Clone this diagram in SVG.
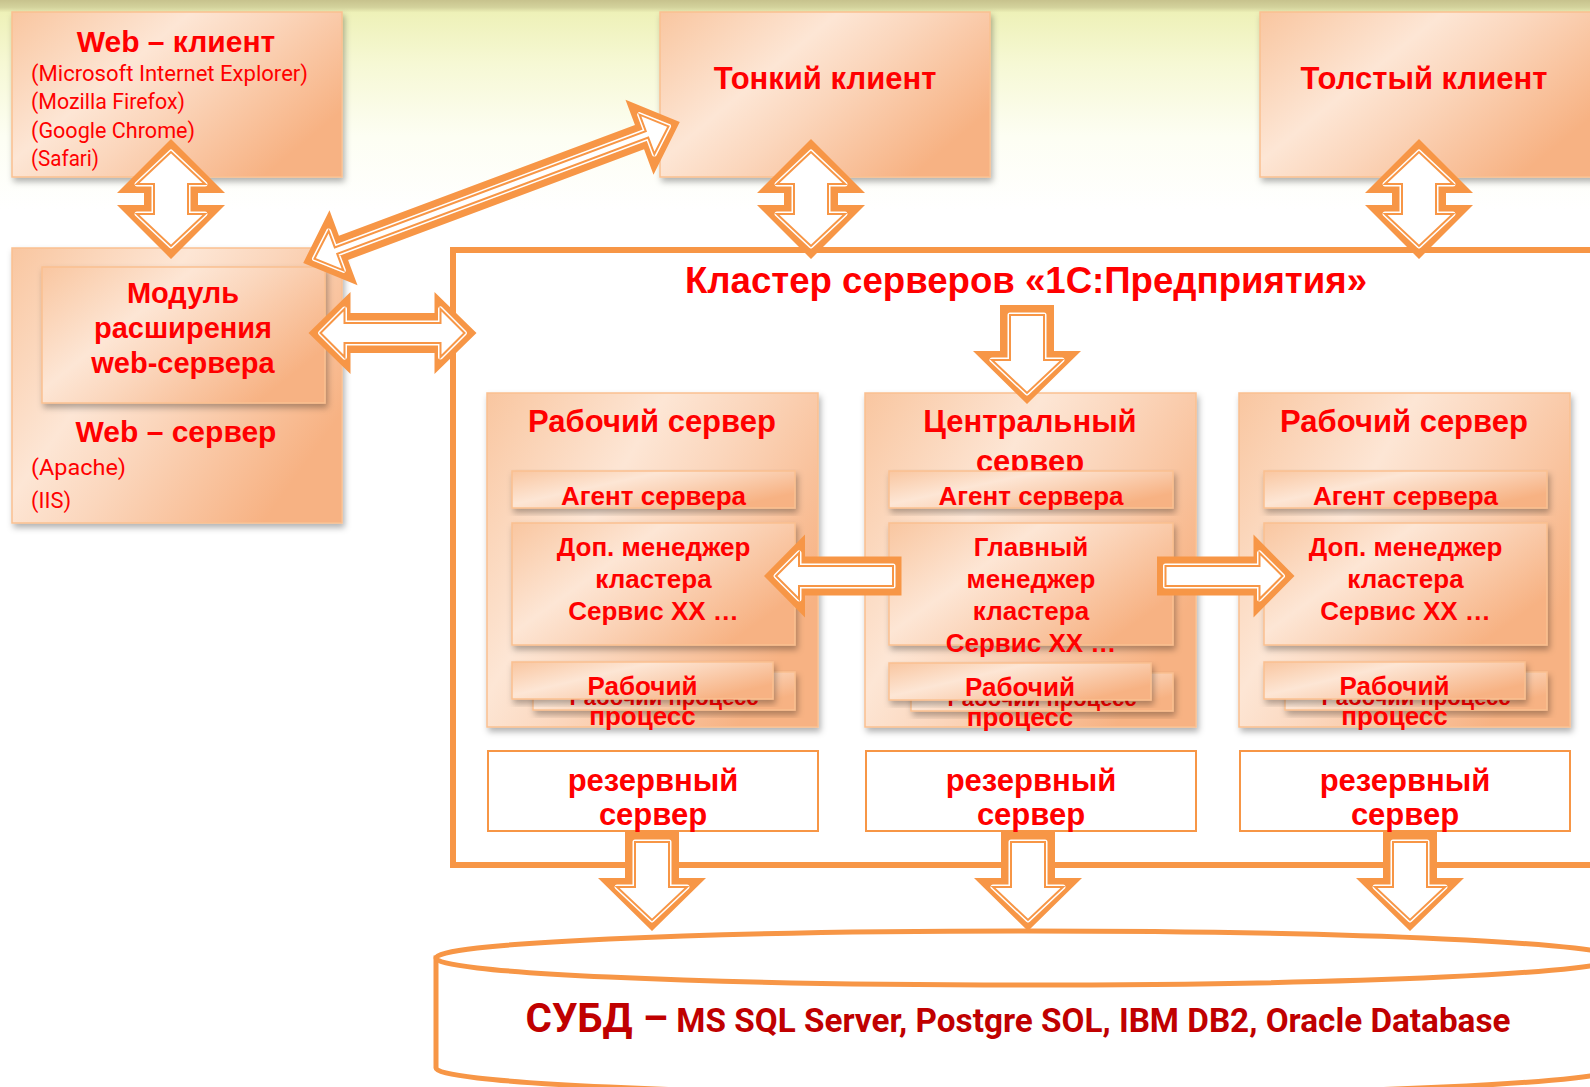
<svg xmlns="http://www.w3.org/2000/svg" xmlns:xlink="http://www.w3.org/1999/xlink" width="1590" height="1087" viewBox="0 0 1590 1087">
<style>
.bx{fill:url(#g);stroke:#FAC090;stroke-width:1.5;filter:url(#sh)}
.rs{fill:#fff;stroke:#F79646;stroke-width:2}
.t{font-family:"Liberation Sans",Arial,sans-serif;font-weight:bold;fill:#FF0000;text-anchor:middle}
.s{font-family:Roboto,"Noto Sans",sans-serif;fill:#FF0000;font-size:22px}
.ao{fill:#F79646}
.ap{fill:#fff;stroke:#fff;stroke-width:5;stroke-linejoin:round}
.al{fill:none;stroke:#F79646;stroke-width:2}
</style>
<defs>
<linearGradient id="bg" x1="0" y1="0" x2="0" y2="1">
<stop offset="0" stop-color="#C7C28D"/>
<stop offset="0.035" stop-color="#D3D29C"/>
<stop offset="0.06" stop-color="#EEF1B8"/>
<stop offset="0.3" stop-color="#F6F8D4"/>
<stop offset="0.65" stop-color="#FDFEF3"/>
<stop offset="1" stop-color="#FFFFFF"/>
</linearGradient>
<linearGradient id="g" x1="0" y1="0" x2="1" y2="0.6">
<stop offset="0" stop-color="#F9C6A0"/>
<stop offset="0.4" stop-color="#FDE6D5"/>
<stop offset="0.6" stop-color="#FBD6BC"/>
<stop offset="1" stop-color="#F7B283"/>
</linearGradient>
<filter id="sh" x="-5%" y="-5%" width="115%" height="125%">
<feDropShadow dx="2" dy="4" stdDeviation="3" flood-color="#000" flood-opacity="0.3"/>
</filter>
<g id="vd">
<path class="ao" d="M0,-60 L-54,-6 L-27,-6 L-27,6 L-54,6 L0,60 L54,6 L27,6 L27,-6 L54,-6 Z"/>
<path class="ap" d="M0,-47 L-34,-15 L-17,-15 L-17,15 L-34,15 L0,47 L34,15 L17,15 L17,-15 L34,-15 Z"/>
<path class="al" d="M0,-47 L-34,-15 L-17,-15 L-17,15 L-34,15 L0,47 L34,15 L17,15 L17,-15 L34,-15 Z"/>
</g>
<g id="dd">
<path class="ao" d="M201,0 L158,-40 L158,-13 L-158,-13 L-158,-40 L-201,0 L-158,40 L-158,13 L158,13 L158,40 Z"/>
<path class="ap" d="M189,0 L166,-21 L166,-3.5 L-166,-3.5 L-166,-21 L-189,0 L-166,21 L-166,3.5 L166,3.5 L166,21 Z"/>
<path class="al" d="M189,0 L166,-21 L166,-3.5 L-166,-3.5 L-166,-21 L-189,0 L-166,21 L-166,3.5 L166,3.5 L166,21 Z"/>
</g>
<g id="hd">
<path class="ao" d="M84,0 L42,-41 L42,-20 L-42,-20 L-42,-41 L-84,0 L-42,41 L-42,20 L42,20 L42,41 Z"/>
<path class="ap" d="M72,0 L48,-24 L48,-10 L-48,-10 L-48,-24 L-72,0 L-48,24 L-48,10 L48,10 L48,24 Z"/>
<path class="al" d="M72,0 L48,-24 L48,-10 L-48,-10 L-48,-24 L-72,0 L-48,24 L-48,10 L48,10 L48,24 Z"/>
</g>
<g id="dn">
<path class="ao" d="M-27,0 L27,0 L27,46 L54,46 L0,99 L-54,46 L-27,46 Z"/>
<path class="ap" d="M-17,10 L17,10 L17,55 L35,55 L0,88 L-35,55 L-17,55 Z"/>
<path class="al" d="M-17,10 L17,10 L17,55 L35,55 L0,88 L-35,55 L-17,55 Z"/>
</g>
<g id="lf">
<path class="ao" d="M0,0 L41,-41.5 L41,-19.5 L137.5,-19.5 L137.5,19.5 L41,19.5 L41,41.5 Z"/>
<path class="ap" d="M12,0 L35,-23 L35,-10 L129,-10 L129,10 L35,10 L35,23 Z"/>
<path class="al" d="M12,0 L35,-23 L35,-10 L129,-10 L129,10 L35,10 L35,23 Z"/>
</g>
</defs>

<rect width="1590" height="1087" fill="#fff"/>
<rect x="0" y="0" width="1590" height="210" fill="url(#bg)"/>

<g id="web-client">
<rect class="bx" x="12" y="12" width="330" height="165"/>
<text class="t" x="176" y="52" font-size="30">Web – клиент</text>
<text class="s" x="31" y="81" textLength="277" lengthAdjust="spacingAndGlyphs">(Microsoft Internet Explorer)</text>
<text class="s" x="31" y="109" textLength="154" lengthAdjust="spacingAndGlyphs">(Mozilla Firefox)</text>
<text class="s" x="31" y="138" textLength="164" lengthAdjust="spacingAndGlyphs">(Google Chrome)</text>
<text class="s" x="31" y="166" textLength="68" lengthAdjust="spacingAndGlyphs">(Safari)</text>
</g>

<g id="web-server">
<rect class="bx" x="12" y="248" width="330" height="275"/>
<text class="t" x="176" y="442" font-size="30">Web – сервер</text>
<text class="s" x="31" y="475" textLength="95" lengthAdjust="spacingAndGlyphs">(Apache)</text>
<text class="s" x="31" y="508" textLength="40" lengthAdjust="spacingAndGlyphs">(IIS)</text>
</g>

<g id="web-module">
<rect class="bx" x="42" y="267" width="283" height="136"/>
<text class="t" x="183" y="303" font-size="29">Модуль</text>
<text class="t" x="183" y="338" font-size="29">расширения</text>
<text class="t" x="183" y="373" font-size="29">web-сервера</text>
</g>

<g id="thin-client">
<rect class="bx" x="660" y="12" width="330" height="165"/>
<text class="t" x="825" y="89" font-size="31">Тонкий клиент</text>
</g>

<g id="thick-client">
<rect class="bx" x="1260" y="12" width="340" height="165"/>
<text class="t" x="1424" y="89" font-size="31">Толстый клиент</text>
</g>

<g id="cluster">
<rect x="453" y="250" width="1200" height="615" fill="#fff" stroke="#F79646" stroke-width="6"/>
<text class="t" x="1026" y="293" font-size="36" textLength="682" lengthAdjust="spacingAndGlyphs">Кластер серверов «1С:Предприятия»</text>
</g>

<g id="server-work-1">
<rect class="bx" x="487" y="393" width="331" height="334"/>
<text class="t" x="652" y="432" font-size="31">Рабочий сервер</text>
<rect class="bx" x="512" y="471" width="283" height="37"/>
<text class="t" x="653.5" y="505" font-size="26">Агент сервера</text>
<rect class="bx" x="512" y="523" width="283" height="122"/>
<text class="t" x="653.5" y="556" font-size="26">Доп. менеджер</text>
<text class="t" x="653.5" y="588" font-size="26">кластера</text>
<text class="t" x="653.5" y="620" font-size="26">Сервис ХХ …</text>
<rect class="bx" x="533" y="672" width="262" height="38"/>
<text class="t" x="664" y="705" font-size="22">Рабочий процесс</text>
<rect class="bx" x="512" y="662" width="261" height="37"/>
<text class="t" x="642.5" y="695" font-size="26">Рабочий</text>
<text class="t" x="642.5" y="725" font-size="26">процесс</text>
</g>

<g id="server-central">
<rect class="bx" x="865" y="393" width="331" height="334"/>
<text class="t" x="1030" y="432" font-size="31">Центральный</text>
<text class="t" x="1030" y="472" font-size="31">сервер</text>
<rect class="bx" x="889" y="471" width="284" height="37"/>
<text class="t" x="1031" y="505" font-size="26">Агент сервера</text>
<rect class="bx" x="889" y="523" width="284" height="122"/>
<text class="t" x="1031" y="556" font-size="26">Главный</text>
<text class="t" x="1031" y="588" font-size="26">менеджер</text>
<text class="t" x="1031" y="620" font-size="26">кластера</text>
<text class="t" x="1031" y="652" font-size="26">Сервис ХХ …</text>
<rect class="bx" x="911" y="673" width="262" height="38"/>
<text class="t" x="1042" y="706" font-size="22">Рабочий процесс</text>
<rect class="bx" x="889" y="663" width="262" height="37"/>
<text class="t" x="1020" y="696" font-size="26">Рабочий</text>
<text class="t" x="1020" y="726" font-size="26">процесс</text>
</g>

<g id="server-work-2">
<rect class="bx" x="1239" y="393" width="331" height="334"/>
<text class="t" x="1404" y="432" font-size="31">Рабочий сервер</text>
<rect class="bx" x="1264" y="471" width="283" height="37"/>
<text class="t" x="1405.5" y="505" font-size="26">Агент сервера</text>
<rect class="bx" x="1264" y="523" width="283" height="122"/>
<text class="t" x="1405.5" y="556" font-size="26">Доп. менеджер</text>
<text class="t" x="1405.5" y="588" font-size="26">кластера</text>
<text class="t" x="1405.5" y="620" font-size="26">Сервис ХХ …</text>
<rect class="bx" x="1285" y="672" width="262" height="38"/>
<text class="t" x="1416" y="705" font-size="22">Рабочий процесс</text>
<rect class="bx" x="1264" y="662" width="261" height="37"/>
<text class="t" x="1394.5" y="695" font-size="26">Рабочий</text>
<text class="t" x="1394.5" y="725" font-size="26">процесс</text>
</g>

<g id="reserve-1">
<rect class="rs" x="488" y="751" width="330" height="80"/>
<text class="t" x="653" y="791" font-size="31">резервный</text>
<text class="t" x="653" y="825" font-size="31">сервер</text>
</g>
<g id="reserve-2">
<rect class="rs" x="866" y="751" width="330" height="80"/>
<text class="t" x="1031" y="791" font-size="31">резервный</text>
<text class="t" x="1031" y="825" font-size="31">сервер</text>
</g>
<g id="reserve-3">
<rect class="rs" x="1240" y="751" width="330" height="80"/>
<text class="t" x="1405" y="791" font-size="31">резервный</text>
<text class="t" x="1405" y="825" font-size="31">сервер</text>
</g>

<g id="dbms">
<path d="M436,958 L436,1068 A590,27 0 0 0 1616,1068 L1616,958 Z" fill="#fff" stroke="#F79646" stroke-width="5"/>
<ellipse cx="1026" cy="958" rx="590" ry="27" fill="#fff" stroke="#F79646" stroke-width="5"/>
<text x="1018" y="1032" text-anchor="middle" font-family="Roboto,'Noto Sans',sans-serif" font-weight="bold" fill="#C00000" textLength="985" lengthAdjust="spacingAndGlyphs"><tspan font-size="40">СУБД –</tspan><tspan font-size="33"> MS SQL Server, Postgre SOL, IBM DB2, Oracle Database</tspan></text>
</g>

<g id="connectors">
<use xlink:href="#vd" x="171" y="199"/>
<use xlink:href="#vd" x="811" y="199"/>
<use xlink:href="#vd" x="1419" y="199"/>
<use xlink:href="#dd" transform="translate(491.5,192.5) rotate(-20.5)"/>
<use xlink:href="#hd" x="392.5" y="333"/>
<use xlink:href="#dn" x="1027" y="305"/>
<use xlink:href="#lf" x="764" y="576"/>
<use xlink:href="#lf" transform="translate(1294.5,576) scale(-1,1)"/>
<use xlink:href="#dn" x="652" y="832"/>
<use xlink:href="#dn" x="1028" y="832"/>
<use xlink:href="#dn" x="1410" y="832"/>
</g>
</svg>
